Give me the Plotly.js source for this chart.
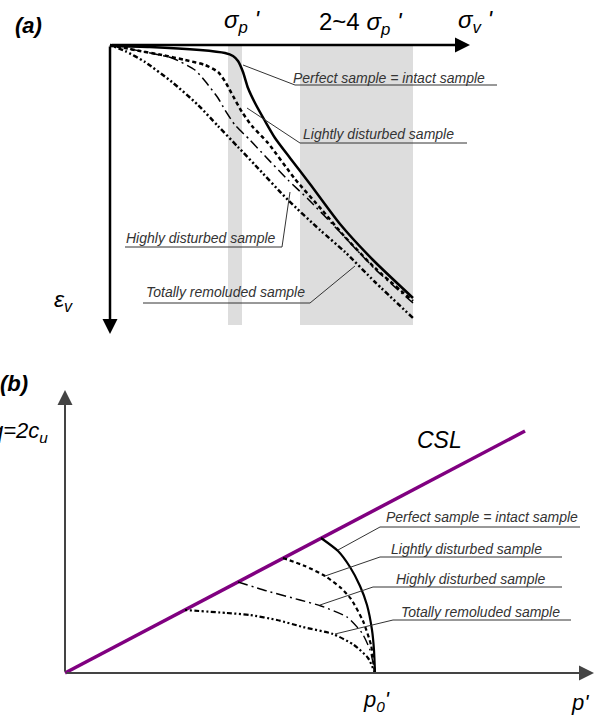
<!DOCTYPE html>
<html><head><meta charset="utf-8">
<script src="https://cdn.plot.ly/plotly-3.0.1.min.js"></script>
<style>html,body{margin:0;padding:0;background:#fff}</style>
</head><body><div id="chart" style="width:595px;height:719px"></div>
<script>
// ---------- Panel (a): compression curves  (sigma_v' → right, eps_v → down; arbitrary units)
const aPerfectX = [0,4,9,11.5,12.3,12.8,13.3,13.8,14.5,15.5,16.5,18,20,23,26.3,30.3];
const aPerfectY = [0.1,0.2,0.5,0.8,1.1,1.6,2.7,4.3,5.8,7.6,9.3,11.3,13.9,17.9,21.5,25.3];
const aLightX = [0,2.5,5.2,7.5,9.5,10.8,11.6,12.3,13.2,14.2,15.8,18.5,21.2,23.5,26.5,30.3];
const aLightY = [0,0.5,1,1.5,2,2.7,3.8,5.1,6.7,8.1,9.8,13.4,16.5,19.2,22.3,25.6];
const aHighX = [0,3.5,6.2,8.5,9.5,10.8,11.5,12.5,14,15.5,17.8,19.8,22.8,26.5,30.3];
const aHighY = [0,0.7,1.3,2.5,3.6,5.3,6.5,8,9.5,11.1,13.5,15.4,18.5,22.4,25.8];
const aRemX = [0,1.5,3.5,6.2,8.8,10.8,12.8,14.5,17.8,21,23.5,26.5,30.3];
const aRemY = [0,0.6,1.7,3.7,6,8.1,10.2,12,15.5,18.5,20.7,23.7,27.3];
// grey bands: sigma_p' and 2~4 sigma_p'
const bandSigP = [11.8, 13.2];
const band24 = [19, 30.3];
const bandDepth = 28;

// ---------- Panel (b): stress paths (p' → right, q → up; arbitrary units)
const cslX = [0, 46];
const cslY = [0, 24.2];
const bPerfectX = [25.6,27.3,28.5,29.5,30.2,30.7,30.9,31];
const bPerfectY = [13.5,12.2,10.6,8.7,6.8,4.3,2.3,0];
const bLightX = [21.8,24,26,27.6,28.6,29.8,30.6,31];
const bLightY = [11.5,10.7,9.7,8.5,7.4,5.2,2.8,0];
const bHighX = [17.3,20.2,23.5,25.6,28.2,29.7,30.5,31];
const bHighY = [9.1,8.2,7.3,6.7,5.6,4,2.3,0];
const bRemX = [12,16.2,18.5,21.2,23.8,26.8,28.9,30.3,31];
const bRemY = [6.3,6,5.8,5.3,4.6,3.9,2.8,1.5,0];

const labels = ['Perfect sample = intact sample','Lightly disturbed sample','Highly disturbed sample','Totally remoluded sample'];

// ---------- layout geometry (pixels)
const W = 595, H = 719, S = 10;           // S: pixels per unit
const aO = [110, 45], bO = [65, 673];      // axis origins
const P = x => x / W, Q = y => 1 - y / H;
const FONT = 'Liberation Sans, Arial, sans-serif';

const styles = {
  perfect: {color:'#000', width:2.5, dash:'solid'},
  light:   {color:'#000', width:2.5, dash:'4px,3px'},
  high:    {color:'#000', width:1.5, dash:'10px,4px,2px,4px'},
  rem:     {color:'#000', width:2.5, dash:'2px,2.5px,2px,2.5px,5px,2.5px'}
};
function tr(x, y, st, ax, w) {
  return {x, y, xaxis: ax[0], yaxis: ax[1], mode:'lines', hoverinfo:'skip', showlegend:false,
          line: Object.assign({}, st, {shape:'spline', smoothing:0.6}, w ? {width:w} : {})};
}
const A = ['x','y'], B = ['x2','y2'];
const data = [
  tr(aRemX, aRemY, styles.rem, A),
  tr(aHighX, aHighY, styles.high, A),
  tr(aLightX, aLightY, styles.light, A),
  tr(aPerfectX, aPerfectY, styles.perfect, A),
  {x: cslX, y: cslY, xaxis:'x2', yaxis:'y2', mode:'lines', hoverinfo:'skip', showlegend:false,
   line:{color:'#800080', width:3.5}},
  tr(bRemX, bRemY, styles.rem, B, 2.2),
  tr(bHighX, bHighY, styles.high, B, 1.4),
  tr(bLightX, bLightY, styles.light, B, 2.2),
  tr(bPerfectX, bPerfectY, styles.perfect, B, 2.2)
];

const shapes = [
  {type:'rect', xref:'x', yref:'y', x0:bandSigP[0], x1:bandSigP[1], y0:0, y1:bandDepth, fillcolor:'#dddddd', line:{width:0}, layer:'below'},
  {type:'rect', xref:'x', yref:'y', x0:band24[0], x1:band24[1], y0:0, y1:bandDepth, fillcolor:'#dddddd', line:{width:0}, layer:'below'}
];
// leader lines (pixel positions)
const leaders = [
  [[243,65],[295,85],[497,85]],
  [[247,108],[300,143],[467,143]],
  [[290,192],[282,247],[125,247]],
  [[355,266],[310,303],[143,303]],
  [[338,550],[380,527],[580,527]],
  [[325,576],[380,557],[562,557]],
  [[320,605],[373,587],[562,587]],
  [[335,634],[393,620],[571,620]]
];
leaders.forEach(pts => {
  shapes.push({type:'path', xref:'paper', yref:'paper',
    path: pts.map((p,i)=>(i?'L':'M')+P(p[0])+','+Q(p[1])).join(' '),
    line:{color:'#333', width:1}});
});

const ann = [];
function txt(t, x, y, size, opts) {
  ann.push(Object.assign({text:t, xref:'paper', yref:'paper', x:P(x), y:Q(y), showarrow:false,
    xanchor:'center', yanchor:'middle', font:{family:FONT, size:size, color:'#000'}}, opts||{}));
}
function arrow(hx, hy, tx, ty, w, c, s) {
  ann.push({text:'', xref:'paper', yref:'paper', x:P(hx), y:Q(hy), ax:tx-hx, ay:ty-hy,
    showarrow:true, arrowhead:2, arrowsize:s, arrowwidth:w, arrowcolor:c, standoff:0});
}
arrow(470, 45, aO[0], aO[1], 2.5, '#000', 1.2);
arrow(aO[0], 334, aO[0], aO[1], 2.5, '#000', 1.2);
arrow(594, 673, bO[0], bO[1], 2, '#444', 1.5);
arrow(bO[0], 390, bO[0], bO[1], 2, '#444', 1.5);

const labPos = [[389,78],[378,134],[201,238],[225,292],[482,517],[466,549],[471,579],[480,612]];
labPos.forEach((p,i) => txt('<i>'+labels[i%4]+'</i>', p[0], p[1], 14, {font:{family:FONT,size:14,color:'#333'}}));

txt('<b><i>(a)</i></b>', 28, 26, 22);
txt('<b><i>(b)</i></b>', 14, 383, 22);
txt("<i>σ<sub>p</sub> '</i>", 242, 21, 24);
txt("2~4 <i>σ<sub>p</sub> '</i>", 361, 23, 24);
txt("<i>σ<sub>v</sub> '</i>", 476, 21, 24);
txt("<i>ε<sub>v</sub></i>", 63, 300, 23);
txt("<i>q=2c<sub>u</sub></i>", 50, 432, 22, {xanchor:'right'});
txt("<i>CSL</i>", 439, 440, 23);
txt("<i>p<sub>0</sub>'</i>", 376, 701, 22);
txt("<i>p'</i>", 580, 702, 22);

const layout = {
  width: W, height: H, margin:{l:0,r:0,t:0,b:0}, autosize:false,
  paper_bgcolor:'#fff', plot_bgcolor:'rgba(0,0,0,0)',
  xaxis: {domain:[0,1], range:[-aO[0]/S, (W-aO[0])/S], visible:false, fixedrange:true, anchor:'y'},
  yaxis: {domain:[0,1], range:[(H-aO[1])/S, -aO[1]/S], visible:false, fixedrange:true, anchor:'x'},
  xaxis2:{domain:[0,1], range:[-bO[0]/S, (W-bO[0])/S], visible:false, fixedrange:true, anchor:'y2'},
  yaxis2:{domain:[0,1], range:[(bO[1]-H)/S, bO[1]/S], visible:false, fixedrange:true, anchor:'x2'},
  shapes, annotations: ann, showlegend:false
};
Plotly.newPlot('chart', data, layout, {staticPlot:true, displayModeBar:false});
</script></body></html>
